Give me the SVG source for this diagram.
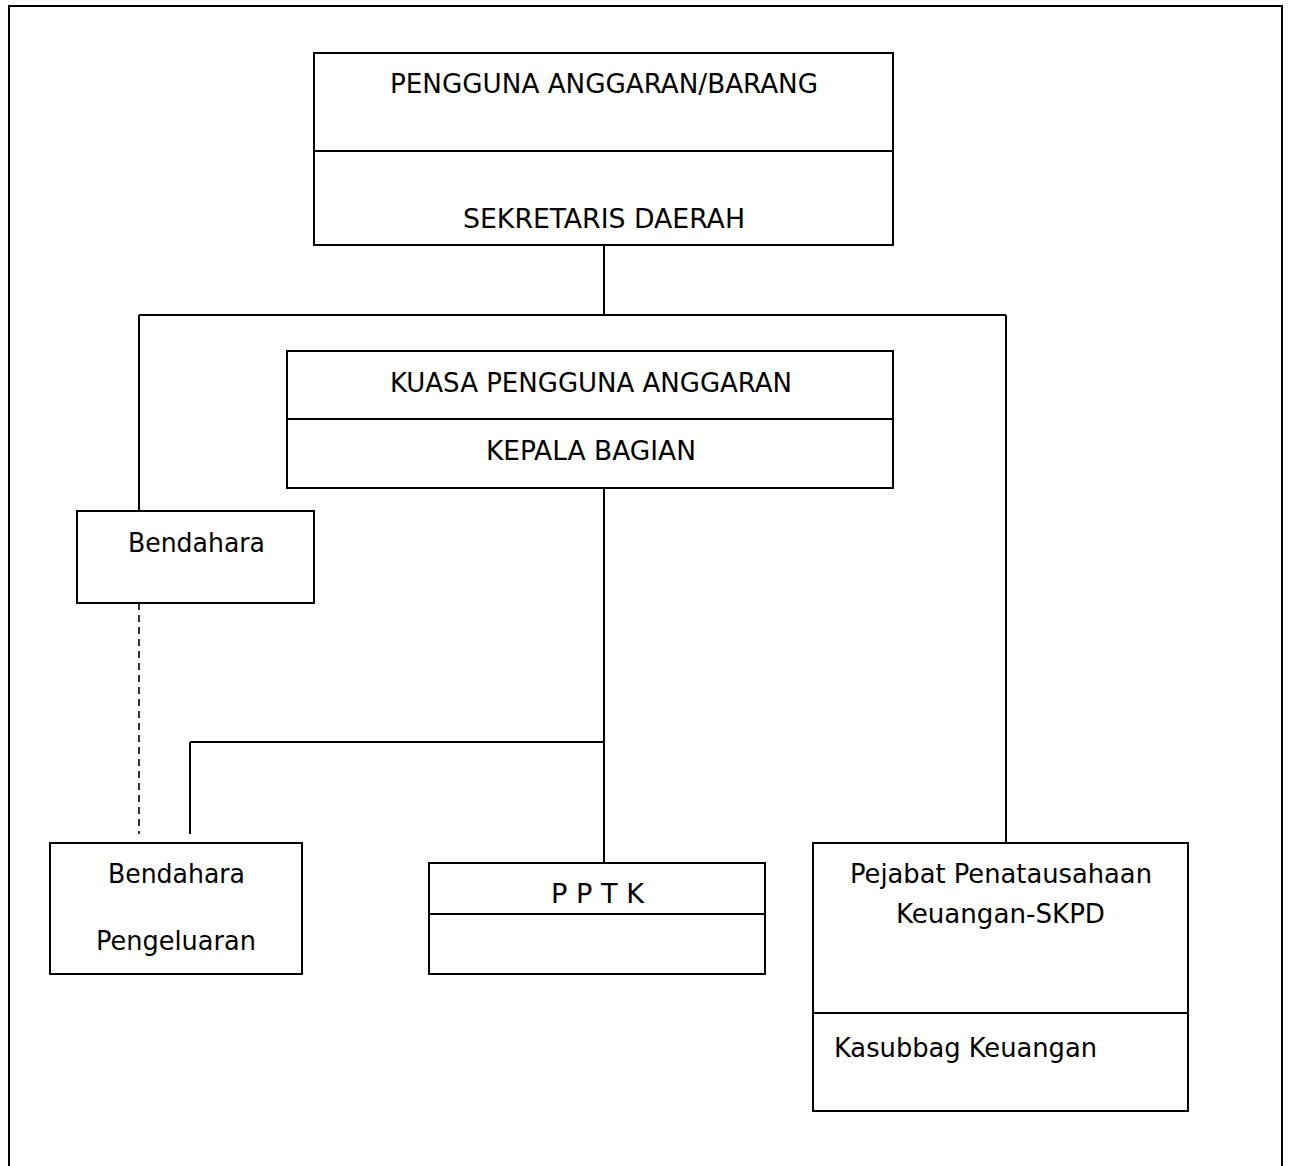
<svg xmlns="http://www.w3.org/2000/svg" width="1289" height="1166" viewBox="0 0 1289 1166">
<style>
.box{fill:#fff;stroke:#000;stroke-width:2}
.ln{fill:none;stroke:#000;stroke-width:2}
.dash{fill:none;stroke:#000;stroke-width:1.6;stroke-dasharray:7 5}
text{font-family:"DejaVu Sans Condensed","DejaVu Sans",sans-serif;font-size:27px;fill:#000}
</style>
<rect width="1289" height="1166" fill="#fff"/>
<rect x="9" y="6" width="1273" height="1175" fill="none" stroke="#000" stroke-width="2"/>
<g id="connectors">
<path class="ln" d="M604 245V315M139 315H1006M139 315V511M1006 315V843"/>
<path class="ln" d="M604 488V863M190 742H604M190 742V834"/>
<path class="dash" d="M139 603V834"/>
</g>
<g id="pengguna">
<rect class="box" x="314" y="53" width="579" height="192"/>
<line class="ln" x1="314" y1="151" x2="893" y2="151"/>
<text x="390" y="93" textLength="428" lengthAdjust="spacingAndGlyphs">PENGGUNA ANGGARAN/BARANG</text>
<text x="463" y="228" textLength="282" lengthAdjust="spacingAndGlyphs">SEKRETARIS DAERAH</text>
</g>
<g id="kuasa">
<rect class="box" x="287" y="351" width="606" height="137"/>
<line class="ln" x1="287" y1="419" x2="893" y2="419"/>
<text x="390" y="392" textLength="402" lengthAdjust="spacingAndGlyphs">KUASA PENGGUNA ANGGARAN</text>
<text x="486" y="460" textLength="210" lengthAdjust="spacingAndGlyphs">KEPALA BAGIAN</text>
</g>
<g id="bendahara">
<rect class="box" x="77" y="511" width="237" height="92"/>
<text x="128" y="552" textLength="137" lengthAdjust="spacingAndGlyphs">Bendahara</text>
</g>
<g id="bendahara-pengeluaran">
<rect class="box" x="50" y="843" width="252" height="131"/>
<text x="108" y="883" textLength="137" lengthAdjust="spacingAndGlyphs">Bendahara</text>
<text x="96" y="950" textLength="160" lengthAdjust="spacingAndGlyphs">Pengeluaran</text>
</g>
<g id="pptk">
<rect class="box" x="429" y="863" width="336" height="111"/>
<line class="ln" x1="429" y1="914" x2="765" y2="914"/>
<text x="551" y="903" textLength="93" lengthAdjust="spacingAndGlyphs">P P T K</text>
</g>
<g id="pejabat">
<rect class="box" x="813" y="843" width="375" height="268"/>
<line class="ln" x1="813" y1="1013" x2="1188" y2="1013"/>
<text x="850" y="883" textLength="302" lengthAdjust="spacingAndGlyphs">Pejabat Penatausahaan</text>
<text x="896" y="923" textLength="209" lengthAdjust="spacingAndGlyphs">Keuangan-SKPD</text>
<text x="834" y="1057" textLength="263" lengthAdjust="spacingAndGlyphs">Kasubbag Keuangan</text>
</g>
</svg>
